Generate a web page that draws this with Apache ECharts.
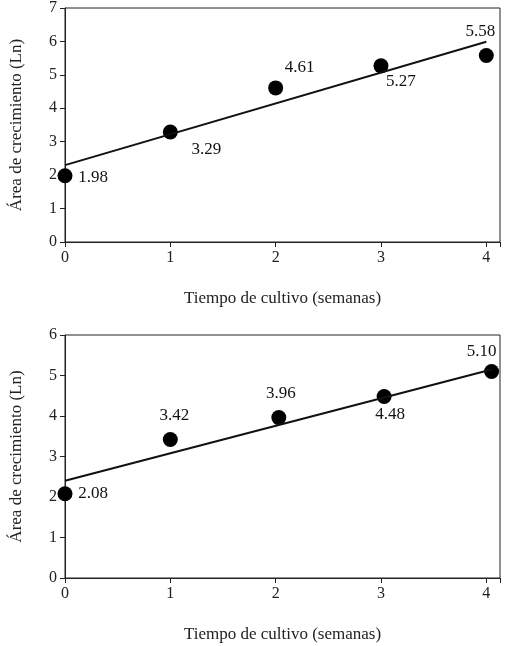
<!DOCTYPE html><html><head><meta charset="utf-8">
<script src="https://cdn.jsdelivr.net/npm/echarts@6/dist/echarts.min.js"></script>
<style>body{margin:0}#c{width:508px;height:646px}</style></head><body><div id="c"></div>
<script>
const xTop=[0,1,2,3,4];
const yTop=[1.98,3.29,4.61,5.27,5.58];
const labTop=['1.98','3.29','4.61','5.27','5.58'];
const posTop=[[28,2],[36,18],[24,-20],[20,16],[-6,-24]];
const fitTop=[[0,2.3],[4,5.99]];
const xBot=[0,1,2.03,3.03,4.05];
const yBot=[2.08,3.42,3.96,4.48,5.10];
const labBot=['2.08','3.42','3.96','4.48','5.10'];
const posBot=[[28,0],[4,-24],[2,-24],[6,18],[-10,-20]];
const fitBot=[[0,2.4],[4.05,5.15]];
const F='Liberation Serif';
function pts(xs,ys,labs,pos){return xs.map((x,i)=>({value:[x,ys[i]],label:{show:true,formatter:labs[i],offset:pos[i],position:'inside',fontFamily:F,fontSize:17,color:'#111',textBorderWidth:0,opacity:1}}));}
function xa(g){return {type:'value',gridIndex:g,min:0,max:4.13,interval:1,axisLabel:{fontFamily:F,fontSize:16,color:'#222',formatter:v=>v>4?'':v},axisLine:{onZero:false,lineStyle:{color:'#222'}},axisTick:{lineStyle:{color:'#222'}},splitLine:{show:false},name:'Tiempo de cultivo (semanas)',nameLocation:'middle',nameGap:48,nameTextStyle:{fontFamily:F,fontSize:17,color:'#222'}};}
function ya(g,max){return {type:'value',gridIndex:g,min:0,max:max,interval:1,axisLabel:{fontFamily:F,fontSize:16,color:'#222'},axisLine:{show:true,lineStyle:{color:'#222'}},axisTick:{lineStyle:{color:'#222'}},splitLine:{show:false},name:'Área de crecimiento (Ln)',nameLocation:'middle',nameGap:40,nameTextStyle:{fontFamily:F,fontSize:17,color:'#222'}};}
const ch=echarts.init(document.getElementById('c'));
ch.setOption({animation:false,
grid:[{left:64,top:8,right:8,height:234,show:true,borderColor:'#222',borderWidth:1},{left:64,top:335,right:8,height:243,show:true,borderColor:'#222',borderWidth:1}],
xAxis:[xa(0),xa(1)],yAxis:[ya(0,7),ya(1,6)],
series:[
{type:'line',xAxisIndex:0,yAxisIndex:0,data:fitTop,symbol:'none',lineStyle:{color:'#111',width:2}},
{type:'scatter',xAxisIndex:0,yAxisIndex:0,data:pts(xTop,yTop,labTop,posTop),symbolSize:15,itemStyle:{color:'#000',opacity:1}},
{type:'line',xAxisIndex:1,yAxisIndex:1,data:fitBot,symbol:'none',lineStyle:{color:'#111',width:2}},
{type:'scatter',xAxisIndex:1,yAxisIndex:1,data:pts(xBot,yBot,labBot,posBot),symbolSize:15,itemStyle:{color:'#000',opacity:1}}
]});
</script></body></html>
